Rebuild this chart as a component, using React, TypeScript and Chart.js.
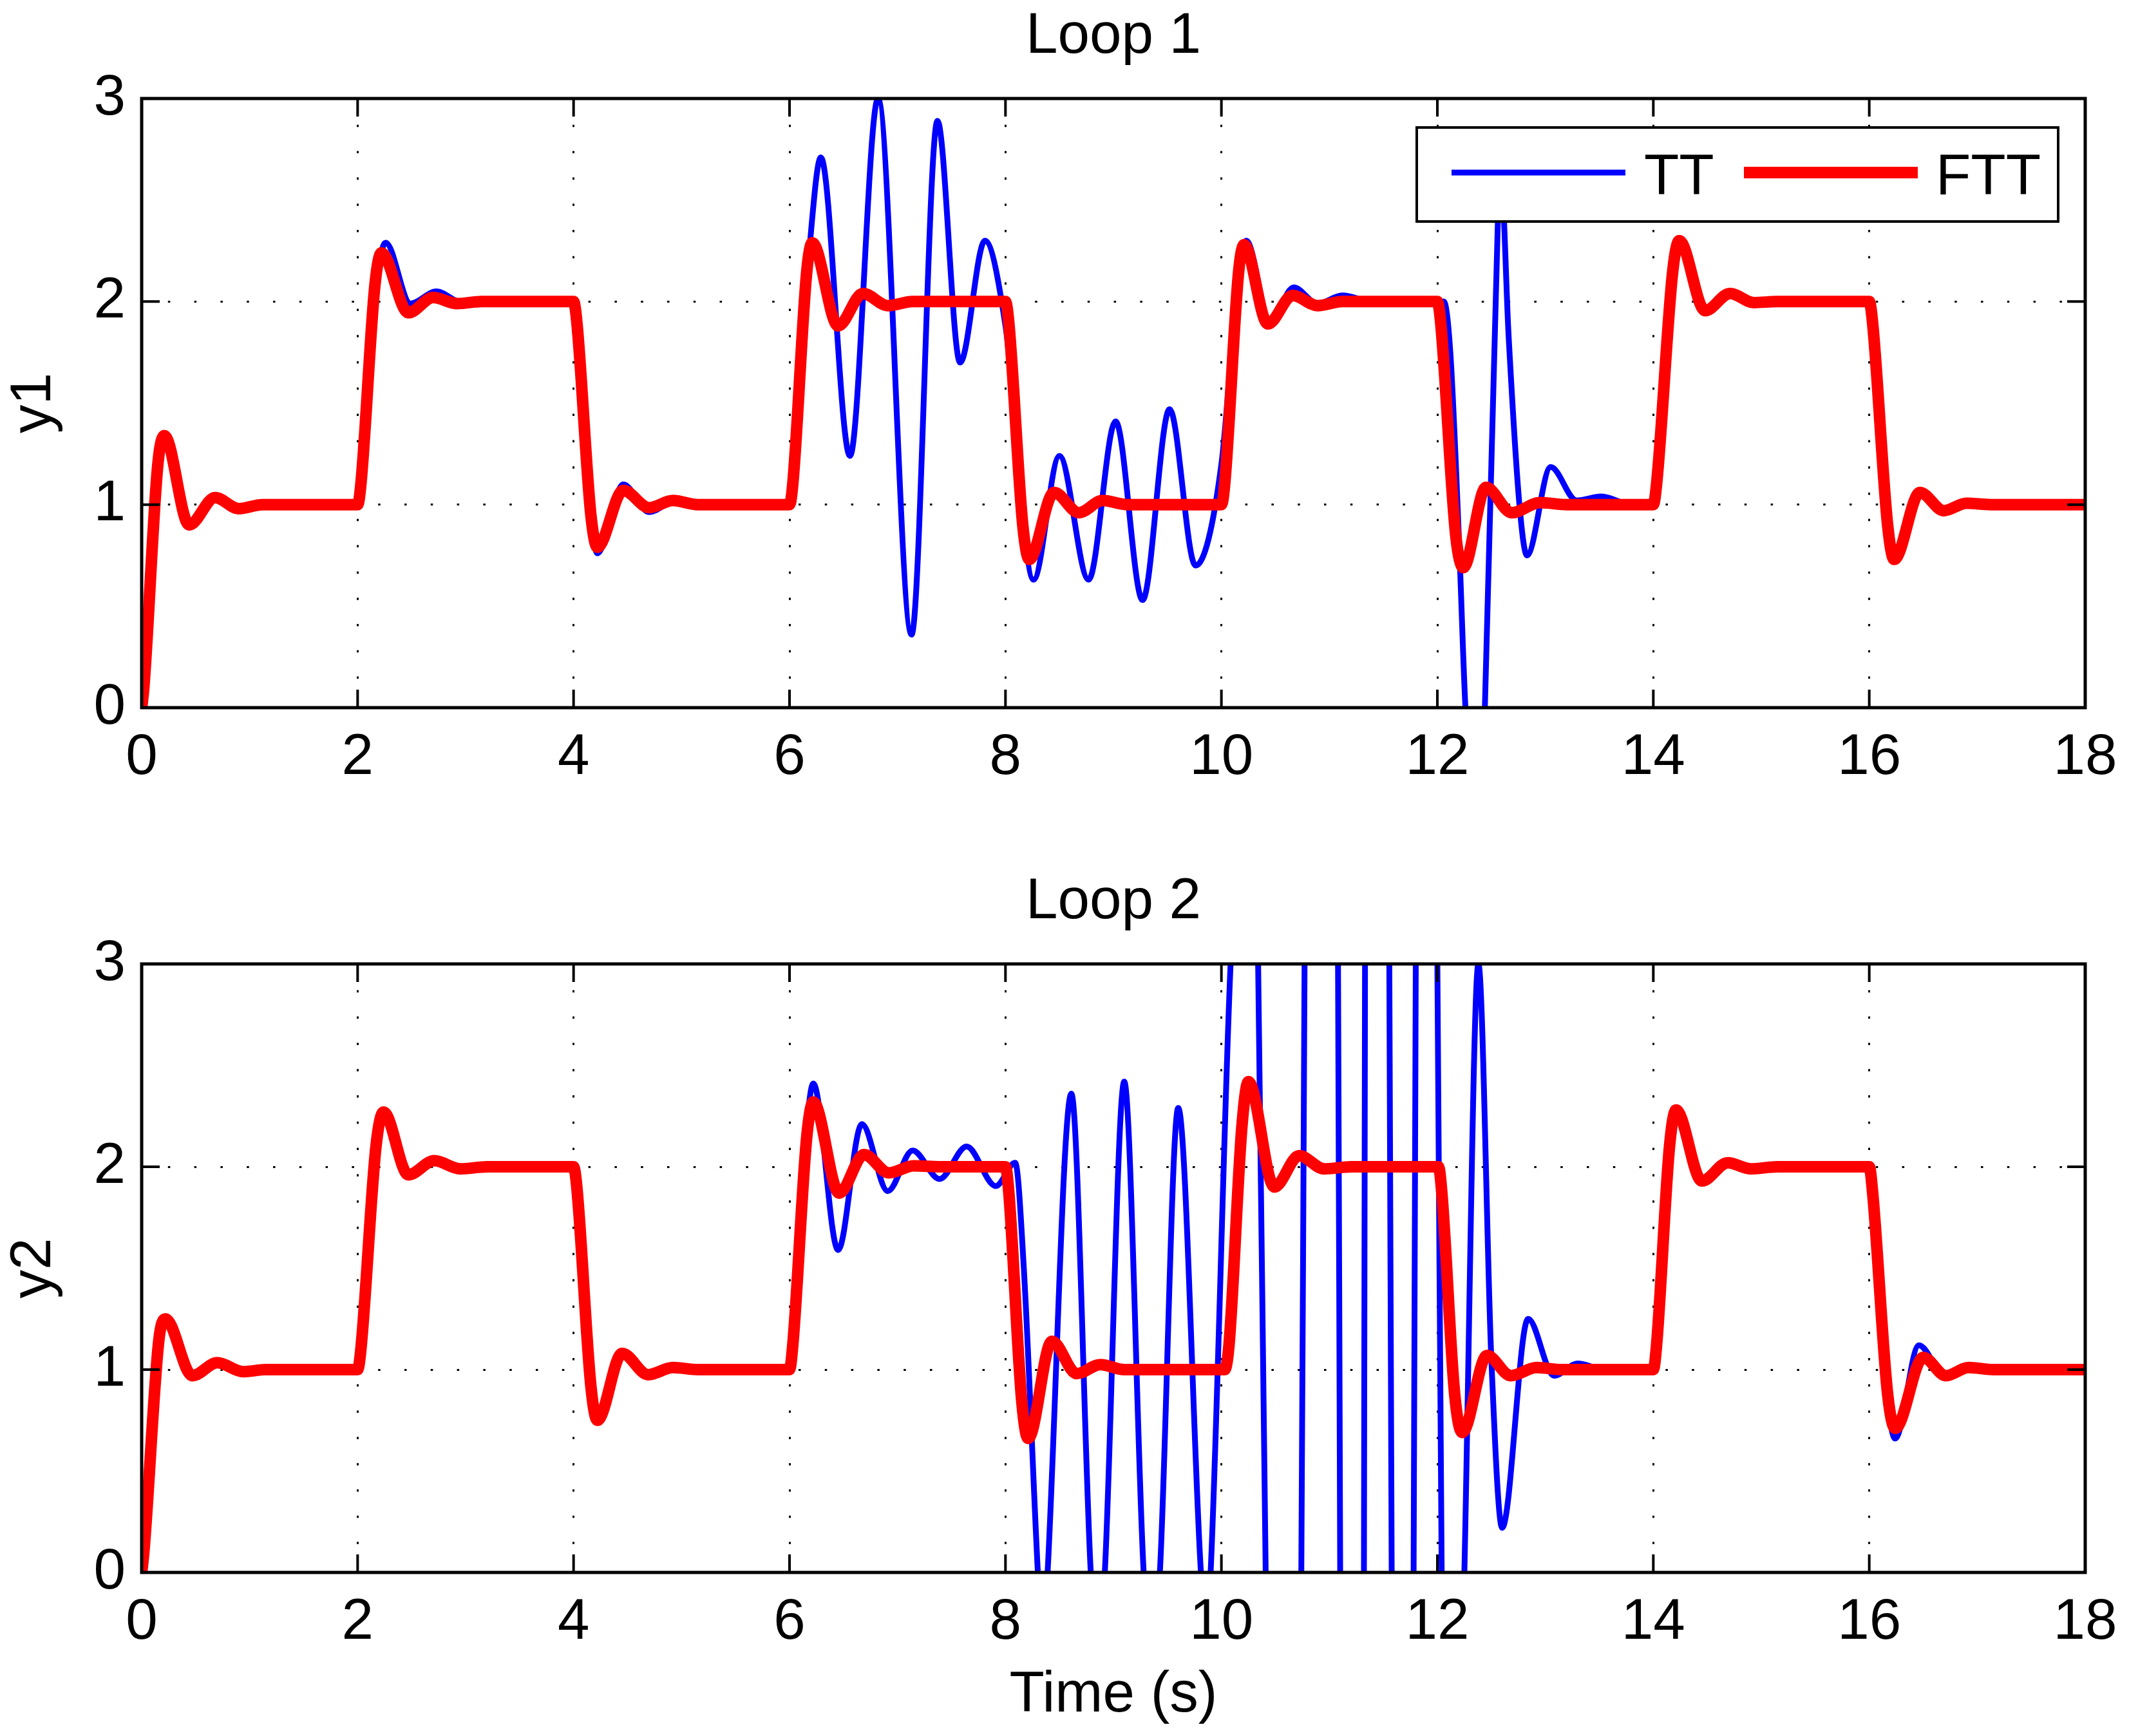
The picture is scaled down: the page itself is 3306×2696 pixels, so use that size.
import React, { useEffect, useRef } from "react";
import { Chart, registerables } from "chart.js";

Chart.register(...registerables);

const FONT_FAMILY = '"Liberation Sans", Arial, Helvetica, sans-serif';
const FONT_SIZE = 89;

// tick values / labels
const xTickValues = [0, 2, 4, 6, 8, 10, 12, 14, 16, 18];
const yTickValues = [0, 1, 2, 3];
const panelTitles = ["Loop 1", "Loop 2"];
const yAxisTitles = ["y1", "y2"];
const xAxisTitle = "Time (s)";
const seriesLabels = ["TT", "FTT"];
const seriesColors = ["#0000ff", "#ff0000"];

// Loop 1 (time [s], y1)
const loop1TT: [number, number][] = [
  [0, 0], [0.02, 0.1], [0.15, 1.2], [0.21, 1.34], [0.44, 0.9], [0.68, 1.035], [0.9, 0.98], [1.12, 1.0], [2.0, 1.0],
  [2.04, 1.1], [2.18, 2.1], [2.26, 2.29], [2.49, 1.99], [2.73, 2.05], [2.97, 1.995], [3.2, 2.0], [4.0, 2.0],
  [4.03, 1.9], [4.16, 0.95], [4.22, 0.76], [4.46, 1.1], [4.7, 0.963], [4.93, 1.015], [5.15, 1.0], [6.0, 1.0],
  [6.04, 1.12], [6.2, 2.35], [6.29, 2.71], [6.56, 1.24], [6.82, 3.0], [7.13, 0.36], [7.37, 2.89], [7.58, 1.7], [7.81, 2.3], [8.0, 1.88],
  [8.26, 0.63], [8.5, 1.24], [8.77, 0.63], [9.02, 1.41], [9.27, 0.53], [9.52, 1.47], [9.76, 0.7], [10.0, 1.2], [10.15, 2.1],
  [10.23, 2.3], [10.45, 1.9], [10.67, 2.07], [10.89, 1.99], [11.12, 2.03], [11.4, 2.0], [12.06, 2.0],
  [12.12, 1.75], [12.2, 0.83], [12.26, 0.0], [12.35, -0.6], [12.44, 0.0], [12.56, 2.39], [12.59, 2.6], [12.66, 1.83], [12.76, 1.0],
  [12.83, 0.75], [13.05, 1.185], [13.29, 1.02], [13.52, 1.04], [13.8, 1.0], [14.0, 1.0],
  [14.03, 1.1], [14.18, 2.15], [14.24, 2.3], [14.48, 1.95], [14.71, 2.04], [14.93, 1.995], [15.15, 2.0], [16.0, 2.0],
  [16.03, 1.9], [16.17, 0.9], [16.23, 0.73], [16.47, 1.06], [16.69, 0.97], [16.9, 1.007], [17.12, 1.0], [18.0, 1.0],
];

const loop1FTT: [number, number][] = [
  [0, 0], [0.02, 0.1], [0.15, 1.2], [0.21, 1.34], [0.44, 0.9], [0.68, 1.035], [0.9, 0.98], [1.12, 1.0], [2.0, 1.0],
  [2.03, 1.1], [2.16, 2.08], [2.22, 2.24], [2.47, 1.945], [2.7, 2.02], [2.92, 1.99], [3.15, 2.0], [4.0, 2.0],
  [4.03, 1.9], [4.16, 0.95], [4.22, 0.79], [4.46, 1.07], [4.7, 0.985], [4.92, 1.02], [5.15, 1.0], [6.0, 1.0],
  [6.03, 1.1], [6.16, 2.15], [6.21, 2.29], [6.45, 1.88], [6.68, 2.04], [6.91, 1.98], [7.14, 2.0], [8.0, 2.0],
  [8.03, 1.9], [8.16, 0.9], [8.22, 0.73], [8.45, 1.06], [8.68, 0.96], [8.9, 1.02], [9.13, 1.0], [10.0, 1.0],
  [10.03, 1.1], [10.16, 2.15], [10.21, 2.28], [10.43, 1.89], [10.66, 2.03], [10.89, 1.98], [11.12, 2.0], [12.0, 2.0],
  [12.03, 1.9], [12.17, 0.85], [12.24, 0.69], [12.45, 1.085], [12.69, 0.96], [12.95, 1.01], [13.2, 1.0], [14.0, 1.0],
  [14.03, 1.1], [14.18, 2.15], [14.24, 2.3], [14.48, 1.955], [14.71, 2.04], [14.93, 1.995], [15.15, 2.0], [16.0, 2.0],
  [16.03, 1.9], [16.17, 0.9], [16.23, 0.73], [16.47, 1.06], [16.69, 0.97], [16.9, 1.007], [17.12, 1.0], [18.0, 1.0],
];

// Loop 2 (time [s], y2)
const loop2TT: [number, number][] = [
  [0, 0], [0.02, 0.1], [0.16, 1.15], [0.22, 1.25], [0.47, 0.97], [0.7, 1.034], [0.94, 0.99], [1.15, 1.0], [2.0, 1.0],
  [2.03, 1.1], [2.17, 2.1], [2.24, 2.27], [2.47, 1.95], [2.71, 2.03], [2.95, 1.99], [3.2, 2.0], [4.0, 2.0],
  [4.03, 1.88], [4.16, 0.92], [4.22, 0.74], [4.45, 1.085], [4.69, 0.97], [4.92, 1.01], [5.15, 1.0], [6.0, 1.0],
  [6.03, 1.12], [6.16, 2.2], [6.22, 2.41], [6.45, 1.59], [6.67, 2.21], [6.91, 1.88], [7.14, 2.08], [7.39, 1.94],
  [7.64, 2.1], [7.91, 1.905], [8.09, 2.02], [8.17, 1.5], [8.3, 0.0], [8.345, -0.4], [8.39, 0.0], [8.61, 2.36],
  [8.79, 0.0], [8.855, -0.45], [8.92, 0.0], [9.1, 2.42], [9.28, 0.0], [9.355, -0.45], [9.43, 0.0], [9.6, 2.29],
  [9.81, 0.0], [9.855, -0.3], [9.9, 0.0], [10.085, 3.0], [10.21, 4.0], [10.34, 3.0], [10.41, 0.0], [10.575, -1.5],
  [10.74, 0.0], [10.77, 3.0], [10.925, 6.0], [11.08, 3.0], [11.1, 0.0], [11.21, -4.0], [11.32, 0.0], [11.33, 3.0],
  [11.44, 6.5], [11.555, 3.0], [11.577, 0.0], [11.68, -4.0], [11.78, 0.0], [11.8, 3.0], [11.9, 6.0], [12.0, 3.0],
  [12.04, 0.0], [12.145, -2.5], [12.25, 0.0], [12.38, 3.0], [12.5, 1.05], [12.6, 0.22], [12.84, 1.25], [13.08, 0.97],
  [13.3, 1.03], [13.55, 1.0], [14.0, 1.0],
  [14.03, 1.12], [14.15, 2.1], [14.21, 2.28], [14.45, 1.93], [14.69, 2.02], [14.9, 1.99], [15.15, 2.0], [16.0, 2.0],
  [16.03, 1.88], [16.17, 0.85], [16.24, 0.66], [16.46, 1.12], [16.69, 0.98], [16.92, 1.01], [17.15, 1.0], [18.0, 1.0],
];

const loop2FTT: [number, number][] = [
  [0, 0], [0.02, 0.1], [0.16, 1.15], [0.22, 1.25], [0.47, 0.97], [0.7, 1.034], [0.94, 0.99], [1.15, 1.0], [2.0, 1.0],
  [2.03, 1.1], [2.17, 2.1], [2.24, 2.27], [2.47, 1.96], [2.71, 2.03], [2.95, 1.99], [3.2, 2.0], [4.0, 2.0],
  [4.03, 1.9], [4.16, 0.92], [4.22, 0.75], [4.45, 1.08], [4.69, 0.975], [4.92, 1.01], [5.15, 1.0], [6.0, 1.0],
  [6.03, 1.12], [6.16, 2.15], [6.22, 2.32], [6.46, 1.87], [6.69, 2.06], [6.92, 1.97], [7.15, 2.005], [7.4, 2.0], [8.0, 2.0],
  [8.03, 1.88], [8.15, 0.85], [8.21, 0.66], [8.43, 1.14], [8.66, 0.98], [8.88, 1.025], [9.1, 1.0], [10.03, 1.0],
  [10.07, 1.12], [10.19, 2.2], [10.25, 2.42], [10.49, 1.9], [10.72, 2.055], [10.95, 1.99], [11.2, 2.0], [12.01, 2.0],
  [12.04, 1.88], [12.16, 0.88], [12.23, 0.69], [12.46, 1.07], [12.68, 0.97], [12.92, 1.01], [13.15, 1.0], [14.0, 1.0],
  [14.03, 1.12], [14.15, 2.1], [14.21, 2.28], [14.45, 1.93], [14.69, 2.02], [14.9, 1.99], [15.15, 2.0], [16.0, 2.0],
  [16.03, 1.88], [16.17, 0.88], [16.24, 0.71], [16.5, 1.06], [16.71, 0.97], [16.92, 1.01], [17.15, 1.0], [18.0, 1.0],
];

const matlabAxesPlugin = {
  id: "matlabAxes",
  afterDatasetsDraw(chart: any, _args: any, opts: any) {
    const { ctx, chartArea } = chart;
    const { left, right, top, bottom } = chartArea;
    const xs = chart.scales.x;
    const ys = chart.scales.y;
    ctx.save();
    ctx.strokeStyle = "#000";
    ctx.lineCap = "butt";
    ctx.lineWidth = 4;
    ctx.beginPath();
    xTickValues.forEach((v) => {
      const p = xs.getPixelForValue(v);
      ctx.moveTo(p, bottom);
      ctx.lineTo(p, bottom - 28);
      ctx.moveTo(p, top);
      ctx.lineTo(p, top + 28);
    });
    yTickValues.forEach((v) => {
      const p = ys.getPixelForValue(v);
      ctx.moveTo(left, p);
      ctx.lineTo(left + 28, p);
      ctx.moveTo(right, p);
      ctx.lineTo(right - 28, p);
    });
    ctx.stroke();
    ctx.lineWidth = 5;
    ctx.strokeRect(left, top, right - left, bottom - top);

    ctx.fillStyle = "#000";
    ctx.font = `${FONT_SIZE}px ${FONT_FAMILY}`;
    ctx.textAlign = "center";
    ctx.textBaseline = "alphabetic";
    ctx.fillText(opts.title, (left + right) / 2, top - 71);

    if (opts.legend) {
      const bw = 996;
      const bh = 146;
      const bx = right - 1038;
      const by = top + 45;
      ctx.fillStyle = "#fff";
      ctx.fillRect(bx, by, bw, bh);
      ctx.lineWidth = 4;
      ctx.strokeStyle = "#000";
      ctx.strokeRect(bx, by, bw, bh);
      const lineStarts = [54, 508];
      const textStarts = [353, 806];
      const ly = by + 70;
      chart.data.datasets.forEach((ds: any, i: number) => {
        ctx.strokeStyle = ds.borderColor;
        ctx.lineWidth = ds.borderWidth;
        ctx.beginPath();
        ctx.moveTo(bx + lineStarts[i], ly);
        ctx.lineTo(bx + lineStarts[i] + 270, ly);
        ctx.stroke();
        ctx.fillStyle = "#000";
        ctx.textAlign = "left";
        ctx.fillText(ds.label, bx + textStarts[i], by + 104);
      });
    }
    ctx.restore();
  },
};

function makeConfig(
  tt: [number, number][],
  ftt: [number, number][],
  panel: number,
  padTop: number,
  xHeight: number,
  showXTitle: boolean,
  legend: boolean
): any {
  const font = { family: FONT_FAMILY, size: FONT_SIZE };
  const grid = {
    display: true,
    drawOnChartArea: true,
    drawTicks: false,
    color: "#000",
    lineWidth: 3,
  };
  const border = { display: false, dash: [3.5, 37.3] };
  return {
    type: "line",
    data: {
      datasets: [
        {
          label: seriesLabels[0],
          data: tt.map(([x, y]) => ({ x, y })),
          borderColor: seriesColors[0],
          borderWidth: 9,
          pointRadius: 0,
          cubicInterpolationMode: "monotone",
          borderJoinStyle: "round",
          fill: false,
          clip: 0,
          order: 1,
        },
        {
          label: seriesLabels[1],
          data: ftt.map(([x, y]) => ({ x, y })),
          borderColor: seriesColors[1],
          borderWidth: 18,
          pointRadius: 0,
          cubicInterpolationMode: "monotone",
          borderJoinStyle: "round",
          fill: false,
          clip: 0,
          order: 0,
        },
      ],
    },
    options: {
      responsive: false,
      animation: false,
      devicePixelRatio: 1,
      events: [],
      layout: { padding: { top: padTop, right: 68, left: 0, bottom: 0 } },
      plugins: {
        legend: { display: false },
        tooltip: { enabled: false },
        title: { display: false },
        matlabAxes: { title: panelTitles[panel], legend },
      },
      scales: {
        x: {
          type: "linear",
          min: 0,
          max: 18,
          afterBuildTicks: (s: any) => {
            s.ticks = xTickValues.map((v) => ({ value: v }));
          },
          afterFit: (s: any) => {
            s.height = xHeight;
            s.paddingLeft = 0;
            s.paddingRight = 0;
          },
          ticks: { font, color: "#000", padding: 25, autoSkip: false, maxRotation: 0 },
          grid,
          border,
          title: {
            display: showXTitle,
            text: xAxisTitle,
            font,
            color: "#000",
            padding: { top: 0, bottom: 9 },
          },
        },
        y: {
          type: "linear",
          min: 0,
          max: 3,
          afterBuildTicks: (s: any) => {
            s.ticks = yTickValues.map((v) => ({ value: v }));
          },
          afterFit: (s: any) => {
            s.width = 220;
            s.paddingTop = 0;
            s.paddingBottom = 0;
          },
          ticks: { font, color: "#000", padding: 25 },
          grid,
          border,
          title: {
            display: true,
            text: yAxisTitles[panel],
            font,
            color: "#000",
            padding: { top: 0, bottom: 0 },
          },
        },
      },
    },
    plugins: [matlabAxesPlugin],
  };
}

export default function App() {
  const ref1 = useRef<HTMLCanvasElement | null>(null);
  const ref2 = useRef<HTMLCanvasElement | null>(null);

  useEffect(() => {
    const c1 = new Chart(ref1.current as any, makeConfig(loop1TT, loop1FTT, 0, 153, 201, false, true));
    const c2 = new Chart(ref2.current as any, makeConfig(loop2TT, loop2FTT, 1, 197, 254, true, false));
    return () => {
      c1.destroy();
      c2.destroy();
    };
  }, []);

  return (
    <div
      style={{
        position: "absolute",
        left: 0,
        top: 0,
        width: 3306,
        height: 2696,
        background: "#fff",
        overflow: "hidden",
      }}
    >
      <canvas
        ref={ref1}
        width={3306}
        height={1300}
        style={{ position: "absolute", left: 0, top: 0, width: 3306, height: 1300 }}
      />
      <canvas
        ref={ref2}
        width={3306}
        height={1396}
        style={{ position: "absolute", left: 0, top: 1300, width: 3306, height: 1396 }}
      />
    </div>
  );
}
